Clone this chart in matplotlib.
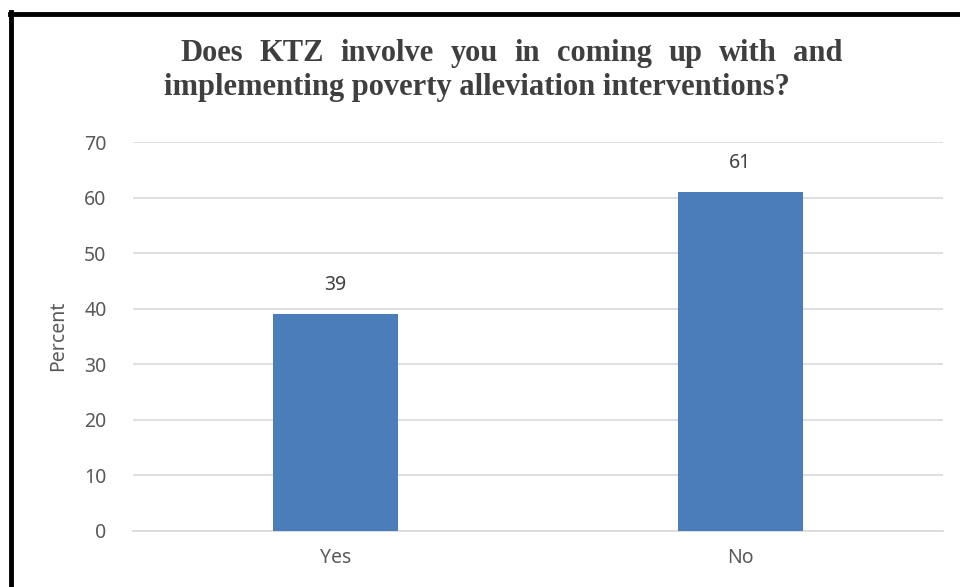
import matplotlib
matplotlib.use("Agg")
import matplotlib.pyplot as plt
from matplotlib.lines import Line2D

categories = ["Yes", "No"]
percent = [39, 61]
y_ticks = [0, 10, 20, 30, 40, 50, 60, 70]
title_line1 = "Does KTZ involve you in coming up with and"
title_line2 = "implementing poverty alleviation interventions?"

W, H = 960, 587
fig = plt.figure(figsize=(W / 100, H / 100), dpi=100)
fig.patch.set_facecolor("white")

def fx(px):
    return px / W

def fy(py):
    return 1 - py / H

ax = fig.add_axes([fx(133), fy(531), fx(943) - fx(133), fy(142) - fy(531)])

label_font = "Noto Sans"
text_grey = "#595959"
bar_blue = "#4A7DBA"
fs = 14

x = range(len(categories))
bars = ax.bar(x, percent, width=0.31, color=bar_blue, zorder=3)
ax.set_xlim(-0.5, len(categories) - 0.5)
ax.set_ylim(0, 70)
ax.set_yticks(y_ticks)
ax.set_xticks(list(x))
ax.set_xticklabels(categories)
ax.yaxis.grid(True, color="#D9D9D9", linewidth=1.2, zorder=0)
ax.set_axisbelow(True)
for s in ["top", "right", "left"]:
    ax.spines[s].set_visible(False)
ax.spines["bottom"].set_color("#D9D9D9")
ax.spines["bottom"].set_linewidth(1.2)
ax.tick_params(axis="both", length=0, labelsize=fs, labelcolor=text_grey)
ax.tick_params(axis="y", pad=19)
ax.tick_params(axis="x", pad=12)
for lab in ax.get_xticklabels() + ax.get_yticklabels():
    lab.set_fontfamily(label_font)

for rect, v in zip(bars, percent):
    ax.annotate(str(v), (rect.get_x() + rect.get_width() / 2, v),
                xytext=(0, 14), textcoords="offset points",
                ha="center", va="bottom", fontsize=fs, color="#404040",
                family=label_font)

fig.text(fx(58), fy(336), "Percent", rotation=90, ha="center", va="center",
         fontsize=fs, color=text_grey, family=label_font)

# Title: first line justified between fixed edges, second line left aligned
title_kw = dict(fontsize=22, fontweight="bold", color="#3F3F3F",
                family="Liberation Serif", va="baseline", ha="left")
words = title_line1.split()
fig.canvas.draw()
renderer = fig.canvas.get_renderer()
widths = []
for w in words:
    t = fig.text(0, 0, w, **title_kw)
    widths.append(t.get_window_extent(renderer).width)
    t.remove()
left, right = 180, 843
gap = (right - left - sum(widths)) / (len(words) - 1)
pos = left
for w, wd in zip(words, widths):
    fig.text(fx(pos), fy(61), w, **title_kw)
    pos += wd + gap
fig.text(fx(164), fy(95), title_line2, **title_kw)

# Black frame along the top and left edges
fig.add_artist(Line2D([fx(10), 1.0], [fy(14), fy(14)], color="black",
                      linewidth=3.5, transform=fig.transFigure))
fig.add_artist(Line2D([fx(11), fx(11)], [fy(12), 0.0], color="black",
                      linewidth=3.5, transform=fig.transFigure))

fig.savefig("out.png", dpi=100, facecolor="white")
